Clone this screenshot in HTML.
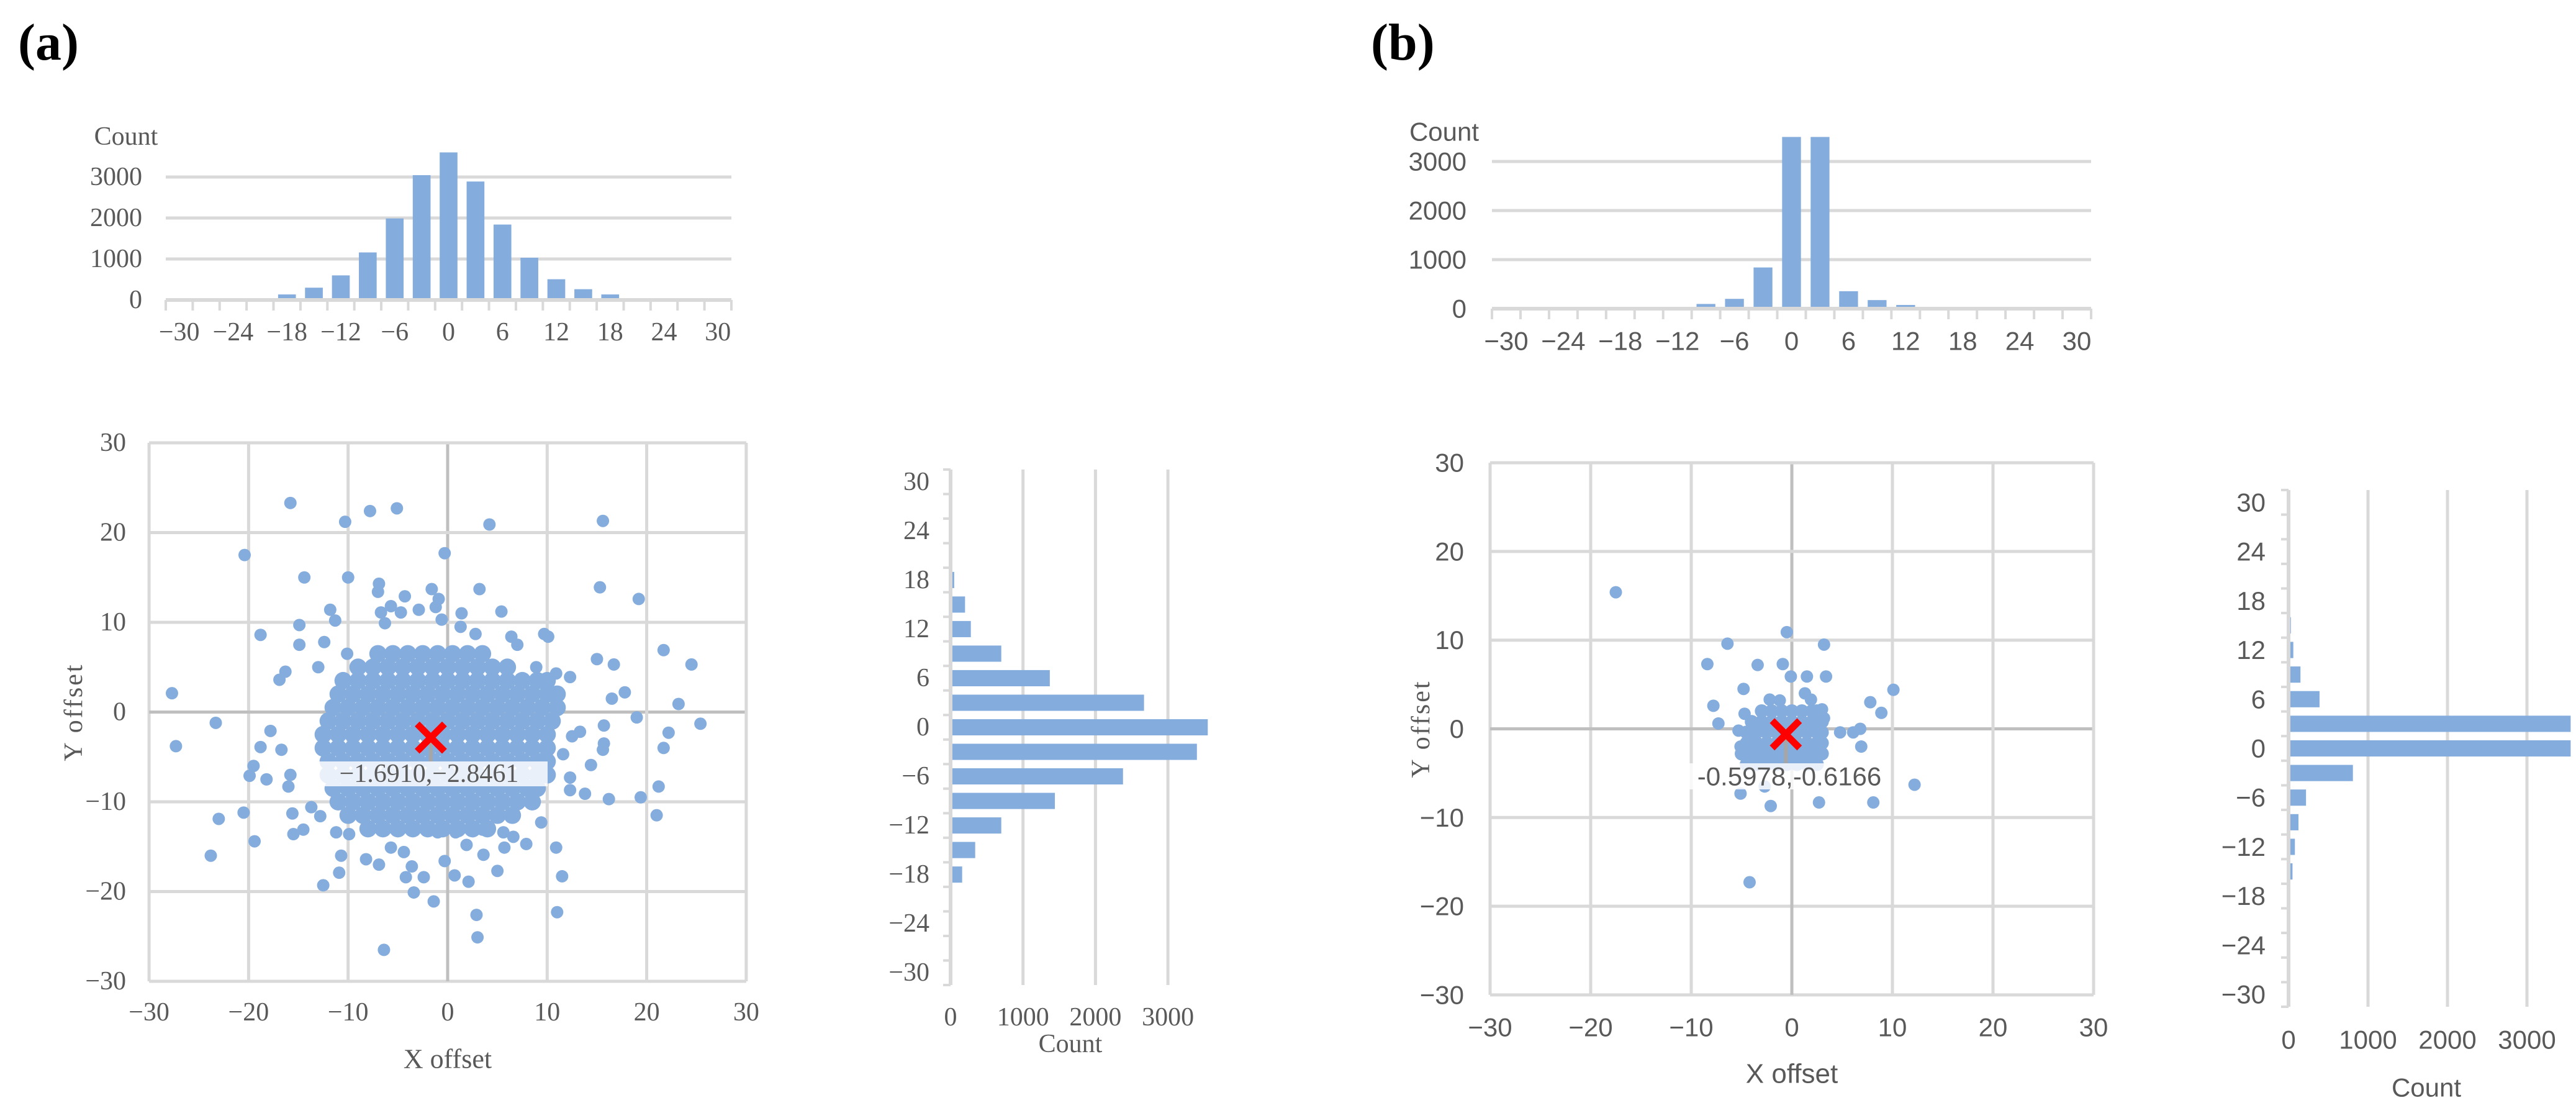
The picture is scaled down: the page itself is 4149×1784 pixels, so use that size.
<!DOCTYPE html>
<html><head><meta charset="utf-8"><style>
html,body{margin:0;padding:0;background:#fff}
svg{display:block}
.s{font-family:"Liberation Serif",serif;fill:#595959}
.n{font-family:"Liberation Sans Narrow","Liberation Sans",sans-serif;fill:#595959}
</style></head><body>
<svg id="fig" width="4149" height="1784" viewBox="0 0 4149 1784" xmlns="http://www.w3.org/2000/svg">
<text x="29" y="96" font-family="Liberation Serif,serif" font-size="84" font-weight="bold" fill="#000">(a)</text>
<text x="2208" y="96" font-family="Liberation Serif,serif" font-size="84" font-weight="bold" fill="#000">(b)</text>
<g id="g"></g>
</svg>
<script>
// ---------- DATA ----------
const topCats = [-30,-27,-24,-21,-18,-15,-12,-9,-6,-3,0,3,6,9,12,15,18,21,24,27,30];
const topTickLabels = ["−30","−24","−18","−12","−6","0","6","12","18","24","30"];
const countTicks = [0,1000,2000,3000];
const countTickLabels = ["0","1000","2000","3000"];
const topA = [0,0,15,15,135,300,600,1160,1990,3045,3600,2890,1840,1030,506,263,135,15,15,0,0];
const topB = [0,0,0,0,0,15,15,96,200,840,3500,3500,356,175,75,15,15,15,0,0,0];
const sideCats = [30,27,24,21,18,15,12,9,6,3,0,-3,-6,-9,-12,-15,-18,-21,-24,-27,-30];
const sideA = [0,0,0,15,50,200,280,700,1370,2670,3550,3400,2380,1440,700,340,160,20,10,0,0];
const sideB = [0,0,0,20,20,30,60,150,390,3550,3550,810,220,125,80,50,0,0,0,0,0];
const scatTicks = [-30,-20,-10,0,10,20,30];
const scatTickLabels = ["−30","−20","−10","0","10","20","30"];
const meanA = [-1.6910,-2.8461];
const meanB = [-0.5978,-0.6166];
const outA = [[-15.8,23.3],[-7.8,22.4],[-5.1,22.7],[-10.3,21.2],[4.2,20.9],[15.6,21.3],[-20.4,17.5],[-0.3,17.7],[-14.4,15],[-10,15],[-6.9,14.3],[-7,13.4],[-1.6,13.7],[3.2,13.7],[15.3,13.9],[19.2,12.6],[-4.3,12.9],[-0.9,12.6],[-11.8,11.4],[-5.7,11.8],[-2.9,11.4],[-1.2,11.7],[5.4,11.2],[-11.3,10.2],[-6.7,11.1],[-4.7,11.1],[1.4,11],[-14.9,9.7],[-6.3,9.9],[-0.6,10.3],[1.3,9.5],[-18.8,8.6],[9.7,8.7],[10.1,8.4],[-14.9,7.5],[-12.4,7.8],[6.4,8.4],[7,7.5],[2.8,8.7],[21.7,6.9],[24.5,5.3],[15,5.9],[16.7,5.3],[-10.1,6.5],[8.9,5],[-13,5],[-16.3,4.5],[10.9,4.3],[12.3,3.9],[-16.9,3.6],[17.8,2.2],[16.5,1.5],[-27.7,2.1],[23.2,0.9],[19,-0.6],[25.4,-1.3],[-23.3,-1.2],[15.7,-1.5],[22.2,-2.3],[13.3,-2.2],[12.5,-2.7],[-27.3,-3.8],[-17.8,-2.1],[-18.8,-3.9],[-16.7,-4.2],[21.7,-4],[15.7,-3.5],[15.6,-4.2],[11.6,-4.7],[14.4,-5.9],[-19.5,-6],[-19.9,-7.1],[-18.2,-7.5],[-15.8,-7],[-16,-8.3],[12.3,-7.3],[21.2,-8.3],[12.3,-8.7],[13.8,-9.1],[16.2,-9.7],[19.4,-9.5],[-20.5,-11.2],[-23,-11.9],[21,-11.5],[-15.6,-11.3],[-19.4,-14.4],[-23.8,-16],[-15.5,-13.6],[-14.5,-13.1],[-10.7,-16],[-10.9,-17.9],[-12.5,-19.3],[-8.2,-16.4],[-4.2,-18.4],[-3.4,-20.1],[-2.4,-18.4],[-1.4,-21.1],[0.7,-18.2],[2.1,-18.9],[5,-17.7],[10.9,-15.1],[11.5,-18.3],[11,-22.3],[2.9,-22.6],[3,-25.1],[-6.4,-26.5],[7.9,-14.7],[9.4,-12.3],[5.7,-15.1],[3.6,-15.9],[-0.3,-16.6],[-6.9,-17],[-3.6,-17.2],[-5.7,-15.1],[-4.4,-15.6],[5.6,-13.4],[6.6,-13.9],[1.9,-14.8],[3.5,-13.1],[0.8,-13.4],[-1,-13.4],[-11.2,-13.4],[-9.9,-13.6],[-13.7,-10.6],[-12.8,-11.6]];
const coreAy = [6.5,5,3.5,2,0.5,-1,-2.5,-4,-5.5,-7,-8.5,-10,-11.5,-13];
const coreAx = [
 [-7,-5.5,-4,-2.5,-1,0.5,2,3.5],
 [-9,-7.5,-6,-4.5,-3,-1.5,0,1.5,3,4.5,6],
 [-10.5,-9,-7.5,-6,-4.5,-3,-1.5,0,1.5,3,4.5,6,7.5,9,10],
 [-11,-9.5,-8,-6.5,-5,-3.5,-2,-0.5,1,2.5,4,5.5,7,8.5,10,11],
 [-11.5,-10,-8.5,-7,-5.5,-4,-2.5,-1,0.5,2,3.5,5,6.5,8,9.5,11],
 [-12,-10.5,-9,-7.5,-6,-4.5,-3,-1.5,0,1.5,3,4.5,6,7.5,9,10.5],
 [-12.5,-11,-9.5,-8,-6.5,-5,-3.5,-2,-0.5,1,2.5,4,5.5,7,8.5,10],
 [-12.5,-11,-9.5,-8,-6.5,-5,-3.5,-2,-0.5,1,2.5,4,5.5,7,8.5,10],
 [-12,-10.5,-9,-7.5,-6,-4.5,-3,-1.5,0,1.5,3,4.5,6,7.5,9,10],
 [-12,-10.5,-9,-7.5,-6,-4.5,-3,-1.5,0,1.5,3,4.5,6,7.5,9,10],
 [-11.5,-10,-8.5,-7,-5.5,-4,-2.5,-1,0.5,2,3.5,5,6.5,8,9],
 [-11,-9.5,-8,-6.5,-5,-3.5,-2,-0.5,1,2.5,4,5.5,7,8.5],
 [-10,-8.5,-7,-5.5,-4,-2.5,-1,0.5,2,3.5,5,6.5],
 [-8,-6.5,-5,-3.5,-2,-0.5,1,2.5,4]];
const outB = [[-17.5,15.4],[-0.5,10.9],[-6.4,9.6],[3.2,9.5],[-8.4,7.3],[-3.4,7.2],[-0.9,7.3],[-0.1,5.9],[1.5,5.9],[3.4,5.9],[-4.8,4.5],[10.1,4.4],[1.3,4],[1.9,3.3],[-2.2,3.3],[-1.2,3.2],[7.8,3],[-7.8,2.6],[8.9,1.8],[-4.7,1.7],[3,2.2],[3.2,1.2],[-7.3,0.6],[-5.3,-0.2],[4.8,-0.4],[6.1,-0.4],[6.8,0],[6.9,-2],[-5.1,-2],[-4.2,-0.9],[12.2,-6.3],[-5.1,-7.3],[-2.1,-8.7],[2.7,-8.3],[8.1,-8.3],[-4.2,-17.3],[-2.7,-6.5]];
const coreBy = [2,0.8,-0.4,-1.6,-2.8,-4];
const coreBx = [
 [-3,-2,-1,0,1,2,2.5],
 [-4,-3,-2,-1,0,1,2,3],
 [-4.5,-3.5,-2.5,-1.5,-0.5,0.5,1.5,2.5,3],
 [-4.5,-3.5,-2.5,-1.5,-0.5,0.5,1.5,2.5,3],
 [-5,-4,-3,-2,-1,0,1,2,3],
 [-4.5,-3.5,-2.5,-1.5,-0.5,0.5,1.5,2.5]];

// ---------- DRAW ----------
const NS = "http://www.w3.org/2000/svg";
const root = document.getElementById('g');
const BLUE = "#84acdd", GRID = "#d9d9d9", ZERO = "#bfbfbf";
function mk(tag, attrs, parent){ const e=document.createElementNS(NS,tag); for(const k in attrs) e.setAttribute(k,attrs[k]); (parent||root).appendChild(e); return e; }
function txt(s, x, y, cls, size, anchor, parent){ const t=mk('text',{x:x,y:y,'class':cls,'font-size':size,'text-anchor':anchor||'middle','dominant-baseline':'central'},parent); t.textContent=s; return t; }

function topHist(left, right, base, perK, labelRight, data, cls, countX, countY, panel){
  const g = mk('g',{});
  
  
  const n = topCats.length, w = (right-left)/n;
  const sx = i => left + (i+0.5)*w;
  const sy = v => base - v*perK/1000;
  countTicks.forEach((v,i)=>{
    if(v>0){ const l=mk('line',{x1:left,x2:right,y1:sy(v),y2:sy(v),stroke:GRID,'stroke-width':5},g);
      
       }
    const t=txt(countTickLabels[i], labelRight, sy(v), cls, 42, 'end', g);
    
    
  });
  data.forEach((v,i)=>{
    const bw = w*0.66;
    const r = mk('rect',{x:sx(i)-bw/2,y:sy(v),width:bw,height:Math.max(0,base-sy(v)),fill:BLUE},g);
    
    
  });
  const ax = mk('line',{x1:left,x2:right,y1:base,y2:base,stroke:GRID,'stroke-width':6},g);
  
  
  for(let i=0;i<=n;i++){ const tk=mk('line',{x1:left+i*w,x2:left+i*w,y1:base,y2:base+17,stroke:GRID,'stroke-width':4},g);
    
     }
  topTickLabels.forEach((s,j)=>{
    const t=txt(s, sx(j*2), base+52, cls, 42, 'middle', g);
    
    
  });
  const c = txt('Count', countX, countY, cls, 42, 'middle', g);
  
  
}
topHist(267,1178,483,66,229,topA,'s',203,220,'a');
topHist(2403,3368,497,79,2362,topB,'n',2326,212,'b');

function scatter(cx, cy, ppx, ppy, labelRight, xLabY, cls, outs, coreY, coreX, mean, meanTxt, box, panel, yTitleX){
  const g = mk('g',{});
  
  
  const sx = v => cx + v*ppx, sy = v => cy - v*ppy;
  scatTicks.forEach((v,i)=>{
    const c = v===0?ZERO:GRID;
    const lv=mk('line',{x1:sx(v),x2:sx(v),y1:sy(30),y2:sy(-30),stroke:c,'stroke-width':5},g);
    
    
    const lh=mk('line',{x1:sx(-30),x2:sx(30),y1:sy(v),y2:sy(v),stroke:c,'stroke-width':5},g);
    
    
    const tx=txt(scatTickLabels[i], sx(v), xLabY, cls, 42, 'middle', g);
    
    
    const ty=txt(scatTickLabels[i], labelRight, sy(v), cls, 42, 'end', g);
    
    
  });
  function dot(x,y,r){ const d=mk('circle',{cx:sx(x),cy:sy(y),r:r,fill:BLUE},g);
    
     }
  outs.forEach(p=>dot(p[0],p[1],10));
  const cr = panel==='a'?14:11;
  coreY.forEach((y,r)=>coreX[r].forEach(x=>dot(x,y,cr)));
  const mx=sx(mean[0]), my=sy(mean[1]);
  const ld=mk('line',{x1:mx,x2:mx,y1:my,y2:box[1],stroke:'#a6a6a6','stroke-width':6},g);
  
  
  const bx=mk('rect',{x:box[0],y:box[1],width:box[2],height:box[3],fill:'#ffffff','fill-opacity':0.82},g);
  
  
  const mt=txt(meanTxt, box[0]+box[2]/2, box[1]+box[3]/2, cls, 42, 'middle', g);
  mt.setAttribute('fill','#404040');
  
  
  const xm=mk('path',{d:`M${mx-22},${my-22}L${mx+22},${my+22}M${mx+22},${my-22}L${mx-22},${my+22}`,stroke:'#ff0000','stroke-width':11},g);
  
  
  const xt=txt('X offset', sx(0), xLabY+75, cls, 44, 'middle', g);
  
  
  const yt=txt('Y offset', yTitleX, sy(0), 's', 42, 'middle', g);
  yt.setAttribute('transform',`rotate(-90 ${yTitleX} ${sy(0)})`);
  yt.setAttribute('letter-spacing','3');
  
  
}
scatter(721,1146.5,16.03,14.45,203,1630,'s',outA,coreAy,coreAx,meanA,'−1.6910,−2.8461',[500,1226,382,40],'a',119);
scatter(2886,1173.5,16.2,14.28,2358,1654,'n',outB,coreBy,coreBx,meanB,'-0.5978,-0.6166',[2719,1229,326,42],'b',2289);

function sideHist(axX, top, bottom, perK, labelRight, data, cls, xLabY, countX, countY, panel){
  const g = mk('g',{});
  
  
  const n = sideCats.length, h=(bottom-top)/n;
  const sy = i => top + (i+0.5)*h;
  const sx = v => axX + v*perK/1000;
  countTicks.forEach((v,i)=>{
    if(v>0){ const l=mk('line',{x1:sx(v),x2:sx(v),y1:top,y2:bottom,stroke:GRID,'stroke-width':5},g);
      
       }
    const t=txt(countTickLabels[i], sx(v), xLabY, cls, 42, 'middle', g);
    
    
  });
  data.forEach((v,i)=>{
    const bh=h*0.66;
    const r=mk('rect',{x:axX,y:sy(i)-bh/2,width:Math.max(0,sx(v)-axX),height:bh,fill:BLUE},g);
    
    
  });
  const ax=mk('line',{x1:axX,x2:axX,y1:top,y2:bottom,stroke:GRID,'stroke-width':6},g);
  
  
  for(let i=0;i<=n;i++){ const tk=mk('line',{x1:axX-12,x2:axX,y1:top+i*h,y2:top+i*h,stroke:GRID,'stroke-width':4},g);
    
     }
  sideCats.forEach((c,i)=>{ if(i%2===0){
    const t=txt(c<0?'−'+(-c):String(c), labelRight, sy(i), cls, 42, 'end', g);
    
     }});
  const c=txt('Count', countX, countY, cls, 42, 'middle', g);
  
  
}
sideHist(1531,756,1586,116.7,1497,sideA,'s',1638,1724,1681,'a');
sideHist(3686,789,1621,128,3649,sideB,'n',1674,3908,1751,'b');
</script>
</body></html>
